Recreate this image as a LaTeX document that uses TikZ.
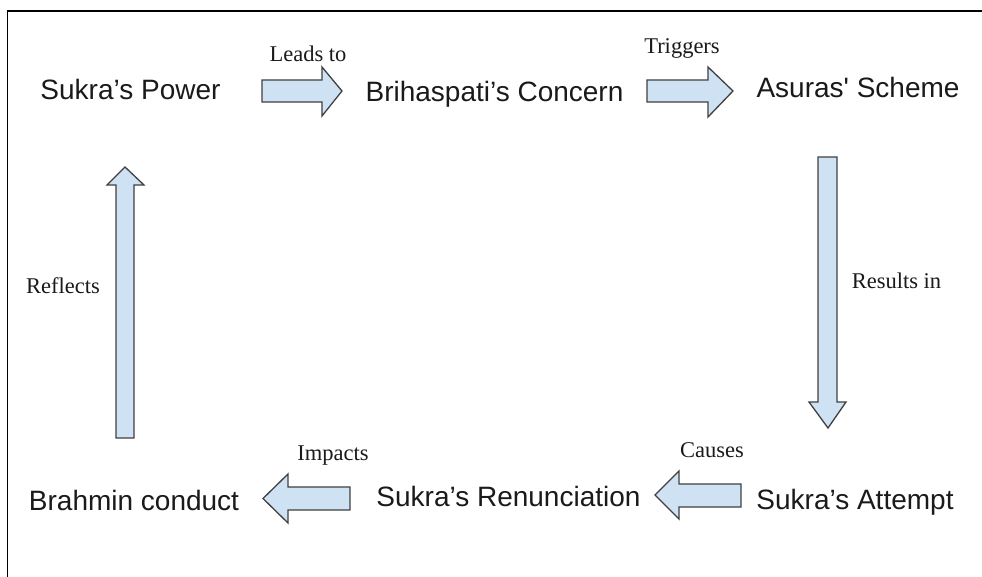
\documentclass[tikz,border=0pt]{standalone}
\usepackage{fontspec}
\newfontfamily\sansf[Ligatures=TeXOff]{Liberation Sans}
\newfontfamily\serf[Ligatures=TeXOff]{Liberation Serif}
\definecolor{arrowfill}{RGB}{207,226,243}
\definecolor{arrowline}{RGB}{64,64,64}
\definecolor{txt}{RGB}{26,26,26}
\begin{document}
\begin{tikzpicture}[x=1pt,y=-1pt,
  main/.style={font=\sansf\fontsize{28}{30}\selectfont, text=txt, anchor=base, inner sep=0pt},
  lab/.style={font=\serf\fontsize{22.5}{25}\selectfont, text=txt, anchor=base, inner sep=0pt},
  blockarrow/.style={fill=arrowfill, draw=arrowline, line width=1.3pt, line join=miter},
  frame/.style={draw=black, line width=1.5pt}]
\useasboundingbox (0,0) rectangle (982,576);
\fill[white] (0,0) rectangle (982,576);
\draw[frame] (7.5,577) -- (7.5,11) -- (983,11);

% main texts
\node[main] (power) at (130.5,99.5) {Sukra’s Power};
\node[main] (concern) at (494.5,101) {Brihaspati’s Concern};
\node[main] (scheme) at (858,97.5) {Asuras' Scheme};
\node[main] (attempt) at (855,509) {Sukra’s Attempt};
\node[main] (renun) at (508.5,506) {Sukra’s Renunciation};
\node[main] (brahmin) at (134,510) {Brahmin conduct};

% labels
\node[lab] (l1) at (308,61) {Leads to};
\node[lab] (l2) at (682,53) {Triggers};
\node[lab] (l3) at (896.5,288) {Results in};
\node[lab] (l4) at (712,457) {Causes};
\node[lab] (l5) at (333,460) {Impacts};
\node[lab] (l6) at (63,293) {Reflects};

% block arrows
% Leads to (right)
\draw[blockarrow] (262,80) -- (322,80) -- (322,67) -- (342,91) -- (322,116) -- (322,102) -- (262,102) -- cycle;
% Triggers (right)
\draw[blockarrow] (647,80) -- (708,80) -- (708,67) -- (733,91) -- (708,117) -- (708,102) -- (647,102) -- cycle;
% Results in (down)
\draw[blockarrow] (818,157) -- (837,157) -- (837,402) -- (846,402) -- (828,428) -- (809,402) -- (818,402) -- cycle;
% Causes (left)
\draw[blockarrow] (741,484) -- (679,484) -- (679,471) -- (655,495) -- (679,519) -- (679,507) -- (741,507) -- cycle;
% Impacts (left)
\draw[blockarrow] (350,487) -- (288,487) -- (288,474) -- (263,498.5) -- (288,523) -- (288,510) -- (350,510) -- cycle;
% Reflects (up)
\draw[blockarrow] (116,438) -- (116,185) -- (107,185) -- (125,167) -- (144,185) -- (134,185) -- (134,438) -- cycle;
\end{tikzpicture}
\end{document}
